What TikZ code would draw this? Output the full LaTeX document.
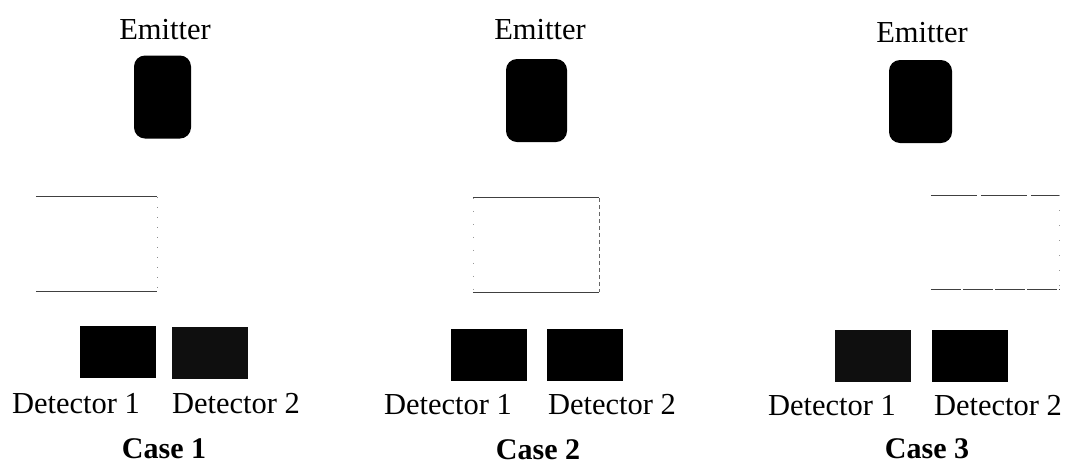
\documentclass[tikz,border=0pt]{standalone}
\usepackage{fontspec}
\setmainfont{Liberation Serif}
\begin{document}
\begin{tikzpicture}[x=1pt,y=-1pt,
  lbl/.style={font=\fontsize{30.5}{36}\selectfont, inner sep=0pt},
  cse/.style={font=\fontsize{30}{36}\selectfont\bfseries, inner sep=0pt},
  emitter/.style={fill=black, rounded corners=11pt, inner sep=0pt, minimum width=#1, minimum height=83pt},
  det/.style={fill=#1, inner sep=0pt, minimum width=76pt, minimum height=52pt},
  sidebox/.style={draw=none, inner sep=0pt, minimum height=94pt}
]
\useasboundingbox (0,0) rectangle (1067,467);
% ---------- Case 1 ----------
\node[lbl] (em1t) at (165,30) {Emitter};
\node[emitter=57pt] (em1) at (162.5,97) {};
\node[sidebox, minimum width=121pt] (b1) at (96.5,244) {};
\draw[black!75, line width=0.7pt] (b1.north west) -- (b1.north east);
\draw[black!75, line width=0.7pt] (b1.south west) -- (b1.south east);
\draw[black!45, line width=0.5pt, dash pattern=on 1pt off 9pt] (b1.north east) -- (b1.south east);
\node[det=black] (d11) at (117.5,351.5) {};
\node[det=black!94] (d12) at (209.5,352.5) {};
\node[lbl] (d11t) at (76,404) {Detector 1};
\node[lbl] (d12t) at (236,404) {Detector 2};
\node[cse] (c1) at (164,449) {Case 1};
% ---------- Case 2 ----------
\node[lbl] (em2t) at (540,30) {Emitter};
\node[emitter=61pt] (em2) at (536.5,100.5) {};
\node[sidebox, minimum width=126pt] (b2) at (536,245) {};
\draw[black!75, line width=0.7pt] (b2.north west) -- (b2.north east);
\draw[black!75, line width=0.7pt] (b2.south west) -- (b2.south east);
\draw[black!40, line width=0.5pt, dash pattern=on 1pt off 12pt] (b2.north west) -- (b2.south west);
\draw[black!60, line width=0.6pt, dash pattern=on 4pt off 3pt] (b2.north east) -- (b2.south east);
\node[det=black] (d21) at (488.5,355) {};
\node[det=black] (d22) at (585,355) {};
\node[lbl] (d21t) at (448,405) {Detector 1};
\node[lbl] (d22t) at (612,405) {Detector 2};
\node[cse] (c2) at (538,450) {Case 2};
% ---------- Case 3 ----------
\node[lbl] (em3t) at (922,33) {Emitter};
\node[emitter=63pt] (em3) at (920.5,101.5) {};
\node[sidebox, minimum width=128pt] (b3) at (995,242.5) {};
\draw[black!75, line width=0.7pt, dash pattern=on 46pt off 4pt] (b3.north west) -- (b3.north east);
\draw[black!75, line width=0.7pt, dash pattern=on 30pt off 2pt] (b3.south west) -- (b3.south east);
\draw[black!40, line width=0.5pt, dash pattern=on 1pt off 14pt] (b3.north east) -- (b3.south east);
\node[det=black!94] (d31) at (873,356) {};
\node[det=black] (d32) at (970,356) {};
\node[lbl] (d31t) at (832,406) {Detector 1};
\node[lbl] (d32t) at (998,406) {Detector 2};
\node[cse] (c3) at (927,449) {Case 3};
\end{tikzpicture}
\end{document}
